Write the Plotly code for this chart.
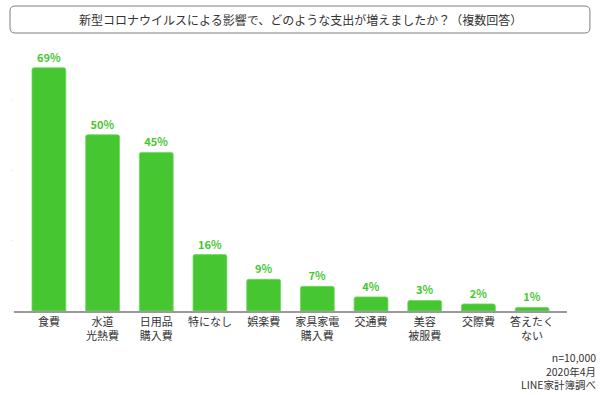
import plotly.graph_objects as go

categories = ["食費", "水道<br>光熱費", "日用品<br>購入費", "特になし", "娯楽費", "家具家電<br>購入費", "交通費", "美容<br>被服費", "交際費", "答えたく<br>ない"]
values = [69, 50, 45, 16, 9, 7, 4, 3, 2, 1]
title_text = "新型コロナウイルスによる影響で、どのような支出が増えましたか？（複数回答）"
note_lines = ["n=10,000", "2020年4月", "LINE家計簿調べ"]

green = "#46C732"
font = "Noto Sans CJK JP"

PW, PH = 555, 282          # plot area size in px
PL, PT = 12, 29            # plot area origin in page px


def px(x):
    return (x - PL) / PW


def py(y):
    return (PT + PH - y) / PH


fig = go.Figure(go.Bar(
    x=list(range(len(categories))), y=values,
    marker=dict(color=green, line=dict(color="#6FD85E", width=0.8)),
    text=[f"{v}%" for v in values], textposition="outside",
    textfont=dict(color=green, size=11, family=font, weight="bold"),
    cliponaxis=False, hoverinfo="skip",
))

fig.update_layout(
    width=600, height=395,
    margin=dict(l=PL, r=600 - (PL + PW), t=PT, b=395 - (PT + PH)),
    paper_bgcolor="white", plot_bgcolor="white",
    bargap=0.37, barcornerradius=2,
    showlegend=False,
    font=dict(family=font, color="#333333", size=11),
    xaxis=dict(
        range=[-0.65, 9.65], tickmode="array",
        tickvals=list(range(len(categories))), ticktext=categories,
        showline=True, linecolor="#9A9A9A", linewidth=1.5,
        showgrid=False, zeroline=False, ticks="",
        tickfont=dict(size=11, color="#333333"),
    ),
    yaxis=dict(
        range=[0, 80], showgrid=False, zeroline=False,
        showticklabels=False, ticks="outside", ticklen=2,
        tickcolor="#EEEEEE", dtick=20, showline=False,
    ),
)

# rounded title box
x0, x1, y0, y1, r = 8, 590, 6, 33, 5
path = (
    f"M {px(x0 + r)},{py(y0)} L {px(x1 - r)},{py(y0)} "
    f"Q {px(x1)},{py(y0)} {px(x1)},{py(y0 + r)} L {px(x1)},{py(y1 - r)} "
    f"Q {px(x1)},{py(y1)} {px(x1 - r)},{py(y1)} L {px(x0 + r)},{py(y1)} "
    f"Q {px(x0)},{py(y1)} {px(x0)},{py(y1 - r)} L {px(x0)},{py(y0 + r)} "
    f"Q {px(x0)},{py(y0)} {px(x0 + r)},{py(y0)} Z"
)
fig.add_shape(type="path", xref="paper", yref="paper", path=path,
              line=dict(color="#7F7F7F", width=1), fillcolor="rgba(0,0,0,0)")

fig.add_annotation(text=title_text, xref="paper", yref="paper",
                   x=px(300), y=py(19.5), showarrow=False,
                   font=dict(size=12, color="#333333", family=font),
                   xanchor="center", yanchor="middle")

fig.add_annotation(text="<br>".join(note_lines), xref="paper", yref="paper",
                   x=px(598), y=py(348), showarrow=False,
                   align="right", xanchor="right", yanchor="top",
                   font=dict(size=10.5, color="#333333", family=font))

fig.write_html("out.html", config={"displayModeBar": False},
               post_script="document.body.style.margin='0px';")
